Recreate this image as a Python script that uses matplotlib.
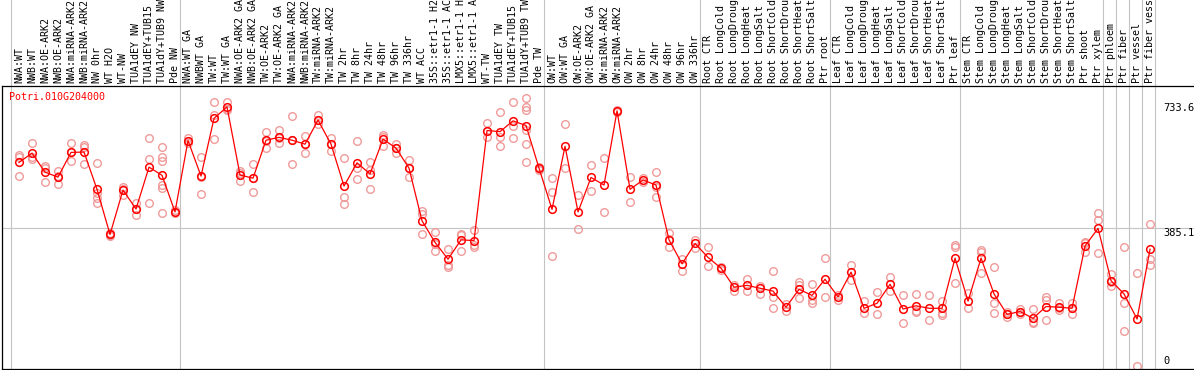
import matplotlib
matplotlib.use('Agg')
import matplotlib.pyplot as plt
import matplotlib.transforms as mtransforms
import numpy as np

gene = 'Potri.010G204000'

samples = ['NWA:WT', 'NWB:WT', 'NWA:OE-ARK2', 'NWB:OE-ARK2', 'NWA:miRNA-ARK2', 'NWB:miRNA-ARK2',
           'NW 0hr', 'WT H2O', 'WT-NW', 'TUA1dEY NW', 'TUA1dEY+TUB15 NW', 'TUA1dY+TUB9 NW', 'Pde NW',
           'NWA:WT GA', 'NWBWT GA', 'TW:WT', 'TW:WT GA', 'NWA:OE-ARK2 GA', 'NWB:OE-ARK2 GA',
           'TW:OE-ARK2', 'TW:OE-ARK2 GA', 'NWA:miRNA-ARK2', 'NWB:miRNA-ARK2', 'TW:miRNA-ARK2',
           'TW:miRNA-ARK2', 'TW 2hr', 'TW 8hr', 'TW 24hr', 'TW 48hr', 'TW 96hr', 'TW 336hr', 'WT ACC',
           '35S::etr1-1 H2O', '35S::etr1-1 ACC', 'LMX5::etr1-1 H2O', 'LMX5::etr1-1 ACC', 'WT-TW',
           'TUA1dEY TW', 'TUA1dEY+TUB15 TW', 'TUA1dY+TUB9 TW', 'Pde TW',
           'OW:WT', 'OW:WT GA', 'OW:OE-ARK2', 'OW:OE-ARK2 GA', 'OW:miRNA-ARK2', 'OW:miRNA-ARK2',
           'OW 2hr', 'OW 8hr', 'OW 24hr', 'OW 48hr', 'OW 96hr', 'OW 336hr',
           'Root CTR', 'Root LongCold', 'Root LongDrought', 'Root LongHeat', 'Root LongSalt',
           'Root ShortCold', 'Root ShortDrought', 'Root ShortHeat', 'Root ShortSalt', 'Ptr root',
           'Leaf CTR', 'Leaf LongCold', 'Leaf LongDrought', 'Leaf LongHeat', 'Leaf LongSalt',
           'Leaf ShortCold', 'Leaf ShortDrought', 'Leaf ShortHeat', 'Leaf ShortSalt', 'Ptr leaf',
           'Stem CTR', 'Stem LongCold', 'Stem LongDrought', 'Stem LongHeat', 'Stem LongSalt',
           'Stem ShortCold', 'Stem ShortDrought', 'Stem ShortHeat', 'Stem ShortSalt', 'Ptr shoot',
           'Ptr xylem', 'Ptr phloem', 'Ptr fiber', 'Ptr vessel', 'Ptr fiber vessel']

group_sizes = [13, 28, 12, 10, 10, 11, 1, 1, 1, 1]

means = [568, 594, 541, 527, 596, 597, 493, 367, 491, 438, 555, 532, 430,
         629, 530, 691, 723, 533, 524, 630, 638, 630, 619, 686, 619, 502, 567, 536, 633, 608,
         552, 405, 345, 298, 352, 350, 657, 654, 684, 671, 552,
         437, 613, 430, 526, 505, 712, 493, 519, 505, 352, 285, 342,
         303, 273, 220, 225, 217, 209, 164, 214, 197, 242,
         193, 262, 161, 175, 228, 159, 168, 161, 161, 301,
         181, 301, 201, 144, 152, 133, 166, 164, 161, 335, 384,
         238, 201, 131, 326]

reps = [[589, 584, 530], [621, 582, 578], [558, 552, 514], [544, 531, 507], [621, 596, 572],
        [617, 612, 565], [566, 482, 468, 454], [372, 365, 364], [500, 495, 477], [454, 438, 421],
        [635, 578, 454], [610, 584, 572, 505, 496, 426], [434, 430, 426],
        [635, 628, 623], [582, 528, 480], [736, 700, 633], [736, 718, 714], [544, 539, 516],
        [563, 524, 485], [653, 629, 608], [659, 635, 621], [697, 630, 564], [642, 619, 594],
        [700, 686, 674], [635, 620, 601], [580, 472, 451], [628, 552, 521], [568, 547, 493],
        [645, 638, 614], [620, 609, 594], [575, 552, 528], [433, 423, 369], [374, 341, 322],
        [326, 282, 277], [368, 366, 322], [379, 338, 333], [677, 657, 638], [708, 640, 613],
        [736, 670, 635], [747, 724, 714, 659, 619, 568], [556, 551, 548],
        [524, 485, 307], [674, 552], [477, 381], [561, 489], [580, 429], [715, 711, 708],
        [527, 457], [525, 513], [542, 500, 471], [370, 354, 331], [298, 266], [352, 330],
        [331, 279], [277, 268], [226, 210], [242, 210], [224, 201], [266, 193, 161], [173, 154],
        [233, 226, 189], [228, 184, 175], [301, 193],
        [199, 183], [282, 240], [181, 149], [206, 144], [248, 209], [198, 120], [201, 154, 150],
        [198, 128], [181, 149, 142], [337, 333, 231],
        [205, 161], [324, 318, 260], [275, 175, 148], [150, 144, 138], [158, 152, 145],
        [158, 122, 119], [193, 184, 128], [175, 163, 156], [175, 163, 145], [345, 342, 317],
        [426, 407, 315], [257, 234, 223], [331, 175, 98], [259, 0], [396, 298, 282]]

ytick_vals = [733.6, 385.1, 0]
mid_line = 385.1

W, H = 1194, 370
fig = plt.figure(figsize=(W / 100, H / 100), dpi=100)
ax = fig.add_axes([1.5 / W, 1 / H, (W - 1.5) / W, 283 / H])

x = np.arange(len(samples))

# replicates first, then mean line on top
for i, r in enumerate(reps):
    ax.plot([i] * len(r), r, 'o', mfc='none', mec='#f09a9a', ms=5.5, mew=1, zorder=2)
ax.plot(x, means, '-', color='red', lw=0.9, zorder=3)
ax.plot(x, means, 'o', mfc='none', mec='red', ms=5.5, mew=1.1, zorder=4)

ax.set_xlim(-1.346, 90.38)
ax.set_ylim(-8.4, 781.3)

# group separators run up through the label area
bounds = np.cumsum([0] + group_sizes) - 0.6
for b in bounds:
    ax.axvline(b, ymin=0, ymax=1 + 86 / 283, color='#c4c4c4', lw=0.8, clip_on=False, zorder=1)
ax.axhline(mid_line, color='#c4c4c4', lw=0.8, zorder=1)

trans = mtransforms.blended_transform_factory(ax.transData, ax.transAxes)
for i, s in enumerate(samples):
    ax.text(i, 1 + 3 / 283, s, transform=trans, rotation=90, ha='center', va='bottom',
            fontsize=7.2, family='DejaVu Sans Mono', clip_on=False)

ytrans = mtransforms.blended_transform_factory(ax.transAxes, ax.transData)
for v in ytick_vals:
    ax.text((1163 - 1.5) / (W - 1.5), v, '%g' % v if v == 0 else '%.1f' % v, transform=ytrans,
            ha='left', va='bottom' if v == 0 else 'top', fontsize=7.5, family='DejaVu Sans Mono')

fig.text(9 / W, (H - 97) / H, gene, color='red', fontsize=7.2, family='DejaVu Sans Mono',
         va='center', ha='left')

ax.set_xticks([])
ax.set_yticks([])
for side in ['left', 'top', 'bottom']:
    ax.spines[side].set_linewidth(0.9)
ax.spines['right'].set_visible(False)

fig.savefig('out.png', dpi=100)
